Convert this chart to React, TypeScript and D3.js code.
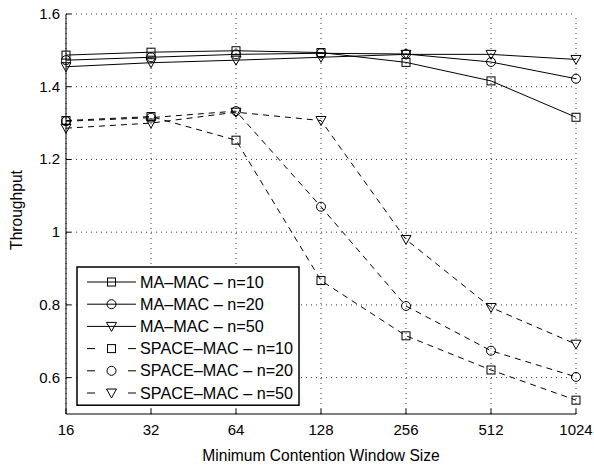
import React from 'react'
import * as d3 from 'd3'

const windowSizes = [16, 32, 64, 128, 256, 512, 1024]
const yTicks = [0.6, 0.8, 1, 1.2, 1.4, 1.6]

const maMac10 = [1.487, 1.495, 1.499, 1.494, 1.467, 1.416, 1.316]
const maMac20 = [1.473, 1.481, 1.489, 1.492, 1.49, 1.468, 1.422]
const maMac50 = [1.455, 1.466, 1.473, 1.481, 1.489, 1.489, 1.475]
const spaceMac10 = [1.307, 1.318, 1.253, 0.867, 0.715, 0.621, 0.538]
const spaceMac20 = [1.305, 1.315, 1.333, 1.07, 0.797, 0.674, 0.602]
const spaceMac50 = [1.286, 1.3, 1.33, 1.307, 0.98, 0.793, 0.692]

const seriesNames = [
  'MA\u2013MAC \u2013 n=10',
  'MA\u2013MAC \u2013 n=20',
  'MA\u2013MAC \u2013 n=50',
  'SPACE\u2013MAC \u2013 n=10',
  'SPACE\u2013MAC \u2013 n=20',
  'SPACE\u2013MAC \u2013 n=50',
]

type Marker = 'square' | 'circle' | 'triangle'

const series: { name: string; values: number[]; marker: Marker; dashed: boolean }[] = [
  { name: seriesNames[0], values: maMac10, marker: 'square', dashed: false },
  { name: seriesNames[1], values: maMac20, marker: 'circle', dashed: false },
  { name: seriesNames[2], values: maMac50, marker: 'triangle', dashed: false },
  { name: seriesNames[3], values: spaceMac10, marker: 'square', dashed: true },
  { name: seriesNames[4], values: spaceMac20, marker: 'circle', dashed: true },
  { name: seriesNames[5], values: spaceMac50, marker: 'triangle', dashed: true },
]

const W = 594
const H = 468
const margin = { top: 14, right: 18, bottom: 54, left: 66 }
const font = 'Liberation Sans, Arial, sans-serif'

function MarkerShape({ type, x, y }: { type: Marker; x: number; y: number }) {
  const common = { fill: 'none', stroke: '#000', strokeWidth: 1 }
  if (type === 'square') return <rect x={x - 4} y={y - 4} width={8} height={8} {...common} />
  if (type === 'circle') return <circle cx={x} cy={y} r={4.5} {...common} />
  return <path d={`M${x - 5},${y - 4}L${x + 5},${y - 4}L${x},${y + 5}Z`} {...common} />
}

export default function App() {
  const x = d3.scaleLog().base(2).domain([16, 1024]).range([margin.left, W - margin.right])
  const y = d3.scaleLinear().domain([0.5, 1.6]).range([H - margin.bottom, margin.top])
  const line = d3
    .line<number>()
    .x((_, i) => x(windowSizes[i]))
    .y(d => y(d))

  const x0 = margin.left
  const x1 = W - margin.right
  const y0 = H - margin.bottom
  const y1 = margin.top

  // legend placement
  const lx = 77
  const ly = 267
  const lw = 222
  const rowH = 22.2

  return (
    <svg width={W} height={H} style={{ position: 'absolute', left: 0, top: 0, background: '#fff' }}>
      <rect width={W} height={H} fill="#fff" />
      {/* grid */}
      {windowSizes.map(v => (
        <line key={'gx' + v} x1={x(v)} x2={x(v)} y1={y0} y2={y1} stroke="#000" strokeWidth={0.8} strokeDasharray="1,4" />
      ))}
      {yTicks.map(v => (
        <line key={'gy' + v} x1={x0} x2={x1} y1={y(v)} y2={y(v)} stroke="#000" strokeWidth={0.8} strokeDasharray="1,4" />
      ))}
      {/* axes */}
      <line x1={x0} x2={x1} y1={y0} y2={y0} stroke="#000" strokeWidth={1} />
      <line x1={x0} x2={x0} y1={y0} y2={y1} stroke="#000" strokeWidth={1} />
      {windowSizes.map(v => (
        <g key={'tx' + v}>
          <line x1={x(v)} x2={x(v)} y1={y0} y2={y0 - 5} stroke="#000" />
          <text x={x(v)} y={y0 + 21} textAnchor="middle" fontFamily={font} fontSize={15}>
            {v}
          </text>
        </g>
      ))}
      {yTicks.map(v => (
        <g key={'ty' + v}>
          <line x1={x0} x2={x0 + 5} y1={y(v)} y2={y(v)} stroke="#000" />
          <text x={x0 - 6} y={y(v) + 5} textAnchor="end" fontFamily={font} fontSize={15}>
            {d3.format('~g')(v)}
          </text>
        </g>
      ))}
      <text x={(x0 + x1) / 2} y={H - 7} textAnchor="middle" fontFamily={font} fontSize={15.6}>
        Minimum Contention Window Size
      </text>
      <text
        transform={`translate(22,${(y0 + y1) / 2 - 4}) rotate(-90)`}
        textAnchor="middle"
        fontFamily={font}
        fontSize={15.6}
      >
        Throughput
      </text>
      {/* series */}
      {series.map(s => (
        <g key={s.name}>
          <path
            d={line(s.values) || ''}
            fill="none"
            stroke="#000"
            strokeWidth={1}
            strokeDasharray={s.dashed ? '6,5' : undefined}
          />
          {s.values.map((v, i) => (
            <MarkerShape key={i} type={s.marker} x={x(windowSizes[i])} y={y(v)} />
          ))}
        </g>
      ))}
      {/* legend */}
      <rect x={lx} y={ly} width={lw} height={rowH * 6 + 5} fill="#fff" stroke="#000" strokeWidth={1.5} />
      {series.map((s, i) => {
        const cy = ly + 15 + i * rowH
        return (
          <g key={'lg' + s.name}>
            {s.dashed ? (
              <>
                <line x1={87} x2={95} y1={cy} y2={cy} stroke="#000" />
                <line x1={128} x2={136} y1={cy} y2={cy} stroke="#000" />
              </>
            ) : (
              <line x1={87} x2={136} y1={cy} y2={cy} stroke="#000" />
            )}
            <MarkerShape type={s.marker} x={111.5} y={cy} />
            <text x={140} y={cy + 5.5} fontFamily={font} fontSize={16.2}>
              {s.name}
            </text>
          </g>
        )
      })}
    </svg>
  )
}
